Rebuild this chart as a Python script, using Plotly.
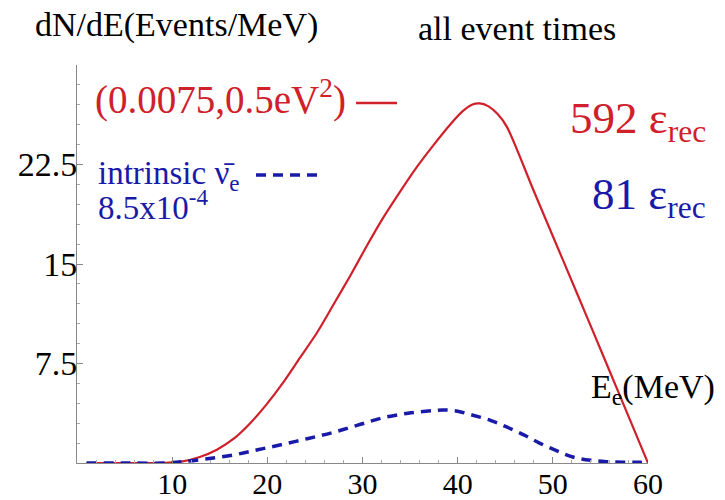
import plotly.graph_objects as go

# Red curve: oscillation signal (0.0075, 0.5 eV^2)
red_E = [1, 5, 9, 11.1, 12.9, 14.7, 16.5, 18.2, 19.9, 21.6, 23.4, 25.2, 27, 28.7, 30.4,
         32.1, 33.9, 35.7, 37.5, 39.2, 40.5, 41.5, 42.3, 43.2, 44.2, 45.2, 48, 51, 54, 57, 60]
red_N = [0, 0, 0, 0.12, 0.45, 1.0, 1.85, 3.0, 4.4, 6.0, 7.9, 9.8, 12.0, 14.1, 16.3,
         18.4, 20.4, 22.3, 24.0, 25.5, 26.5, 27.0, 27.1, 26.9, 26.3, 25.3, 20.5, 15.4, 10.3, 5.15, 0]

# Blue dashed curve: intrinsic anti-nu_e background 8.5x10^-4
blue_E = [1, 5, 9, 11.1, 13.5, 16.4, 19, 21.6, 24.3, 26.9, 29.5, 32.1, 34.8, 37.4,
          38.5, 40, 41.6, 43.5, 45.2, 47, 48.6, 50.5, 52.1, 54, 55.7, 57.5, 59.2, 60]
blue_N = [0, 0, 0, 0.1, 0.3, 0.6, 1.0, 1.4, 1.85, 2.3, 2.85, 3.4, 3.75, 3.95,
          4.0, 3.9, 3.6, 3.2, 2.7, 2.1, 1.5, 0.9, 0.45, 0.2, 0.1, 0.06, 0.05, 0]

x_ticks = [10, 20, 30, 40, 50, 60]
y_ticks = [7.5, 15, 22.5]
y_tick_labels = ["7.5", "15", "22.5"]

SERIF = "Liberation Serif"
RED = "#d0202a"
BLUE = "#1a1aa8"

# page body has an 8px default margin, so the figure is 8px smaller and offset
OFF = 8
W, H = 725 - OFF, 500 - OFF
L, R, T, B = 77 - OFF, 77, 65 - OFF, 37

fig = go.Figure()
fig.add_trace(go.Scatter(x=red_E, y=red_N, mode="lines",
                         line=dict(color=RED, width=2.2, shape="spline", smoothing=0.7),
                         showlegend=False, hoverinfo="skip"))
fig.add_trace(go.Scatter(x=blue_E, y=blue_N, mode="lines",
                         line=dict(color=BLUE, width=3.5, dash="10px,7px", shape="spline", smoothing=1.0),
                         showlegend=False, hoverinfo="skip"))

fig.update_layout(
    width=W, height=H,
    margin=dict(l=L, r=R, t=T, b=B, autoexpand=False),
    paper_bgcolor="white", plot_bgcolor="white",
    font=dict(family=SERIF, color="black"),
    xaxis=dict(range=[0, 60], tickvals=x_ticks, ticktext=[str(v) for v in x_ticks],
               automargin=False,
               showgrid=False, zeroline=False, showline=True, linecolor="#888", linewidth=1,
               ticks="inside", ticklen=6, tickcolor="#888", ticklabelstandoff=-6,
               minor=dict(ticks="inside", dtick=2, ticklen=3, tickcolor="#aaa"),
               tickfont=dict(family=SERIF, size=30, color="black")),
    yaxis=dict(range=[0, 30], tickvals=y_ticks, ticktext=y_tick_labels,
               automargin=False,
               showgrid=False, zeroline=False, showline=True, linecolor="#888", linewidth=1,
               ticks="inside", ticklen=6, tickcolor="#888", ticklabelstandoff=-8,
               minor=dict(ticks="inside", dtick=1.5, ticklen=3, tickcolor="#aaa"),
               tickfont=dict(family=SERIF, size=34, color="black")),
)


def px2paper(x, y):
    xf, yf = x - OFF, y - OFF
    return (xf - L) / (W - L - R), (H - B - yf) / (H - T - B)


ann = [
    dict(text="dN/dE(Events/MeV)", x=33, y=25, size=34, color="black", anchor="left"),
    dict(text="all event times", x=416, y=28, size=34, color="black", anchor="left"),
    dict(text="(0.0075,0.5eV<sup>2</sup>)", x=93, y=97, size=39, color=RED, anchor="left"),
    dict(text="intrinsic ν\u0304<sub>e</sub>", x=96, y=175, size=33, color=BLUE, anchor="left"),
    dict(text="8.5x10<sup>-4</sup>", x=96, y=205, size=33, color=BLUE, anchor="left"),
    dict(text="592 ε<sub>rec</sub>", x=708, y=121, size=45, color=RED, anchor="right"),
    dict(text="81 ε<sub>rec</sub>", x=708, y=197, size=45, color=BLUE, anchor="right"),
    dict(text="E<sub>e</sub>(MeV)", x=589, y=389, size=34, color="black", anchor="left"),
]
for a in ann:
    px, py = px2paper(a["x"], a["y"])
    fig.add_annotation(text=a["text"], xref="paper", yref="paper", x=px, y=py,
                       xanchor=a["anchor"], yanchor="middle", showarrow=False,
                       font=dict(family=SERIF, size=a["size"], color=a["color"]))

x0, y0 = px2paper(356, 103); x1, _ = px2paper(397, 103)
fig.add_shape(type="line", xref="paper", yref="paper", x0=x0, y0=y0, x1=x1, y1=y0,
              line=dict(color=RED, width=2.5))
x0, y0 = px2paper(256, 175); x1, _ = px2paper(318, 175)
fig.add_shape(type="line", xref="paper", yref="paper", x0=x0, y0=y0, x1=x1, y1=y0,
              line=dict(color=BLUE, width=3.5, dash="10px,7px"))

fig.write_html("out.html")
